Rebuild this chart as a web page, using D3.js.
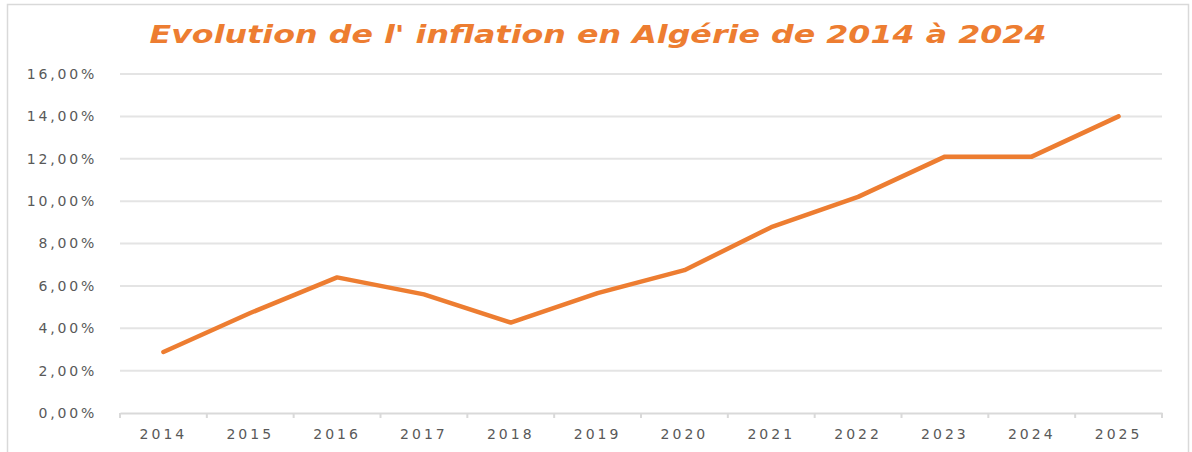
<!DOCTYPE html>
<html><head><meta charset="utf-8">
<script src="https://cdn.jsdelivr.net/npm/d3@7"></script>
<style>
html,body{margin:0;padding:0;background:#fff;}
svg{display:block;}
</style></head>
<body>
<svg id="chart" width="1192" height="452"></svg>
<script>
const years = ["2014","2015","2016","2017","2018","2019","2020","2021","2022","2023","2024","2025"];
const inflation = [2.88, 4.72, 6.40, 5.60, 4.27, 5.66, 6.74, 8.77, 10.2, 12.1, 12.1, 14.0];
const yTicks = [0, 2, 4, 6, 8, 10, 12, 14, 16];
const title = "Evolution de l' inflation en Algérie de 2014 à 2024";

const svg = d3.select("#chart");
const W = 1192, H = 452;
const m = {left:120, right:30, top:74, bottom:39};

svg.append("rect").attr("x",7.5).attr("y",4.5).attr("width",1181).attr("height",460)
  .attr("fill","#fff").attr("stroke","#d9d9d9").attr("stroke-width",1.5);

const x = d3.scaleBand().domain(years).range([m.left, W - m.right]);
const y = d3.scaleLinear().domain([0,16]).range([H - m.bottom, m.top]);

// gridlines
svg.append("g").selectAll("line").data(yTicks.filter(d=>d>0)).join("line")
  .attr("x1", m.left).attr("x2", W - m.right)
  .attr("y1", d=>y(d)).attr("y2", d=>y(d))
  .attr("stroke","#e4e4e4").attr("stroke-width",2);

// y axis labels
const fmt = d => d.toFixed(2).replace(".", ",") + "%";
const yAxis = d3.axisLeft(y).tickValues(yTicks).tickFormat(fmt).tickSize(0).tickPadding(23);
const gy = svg.append("g").attr("transform",`translate(${m.left},0)`).call(yAxis);
gy.select(".domain").remove();
gy.selectAll("text").attr("font-family","DejaVu Sans, Verdana, sans-serif")
  .attr("font-size",14).attr("fill","#595959").attr("letter-spacing","2.8px");

// x axis
const xAxis = d3.axisBottom(x).tickSize(0).tickPadding(16);
const gx = svg.append("g").attr("transform",`translate(0,${H - m.bottom})`).call(xAxis);
gx.select(".domain").attr("stroke","#d9d9d9").attr("stroke-width",2);
gx.selectAll("text").attr("font-family","DejaVu Sans, Verdana, sans-serif")
  .attr("font-size",14).attr("fill","#595959").attr("letter-spacing","3px");
// category boundary ticks
const bounds = years.map(d => x(d)).concat([x(years[years.length-1]) + x.bandwidth()]);
gx.append("g").selectAll("line").data(bounds).join("line")
  .attr("x1", d=>d).attr("x2", d=>d).attr("y1",0).attr("y2",5)
  .attr("stroke","#d9d9d9").attr("stroke-width",2);

// line
const line = d3.line().x((d,i)=>x(years[i]) + x.bandwidth()/2).y(d=>y(d));
svg.append("path").datum(inflation).attr("d", line)
  .attr("fill","none").attr("stroke","#ED7D31").attr("stroke-width",4.5)
  .attr("stroke-linejoin","round").attr("stroke-linecap","round");

// title
svg.append("text").attr("x",598).attr("y",43).attr("text-anchor","middle")
  .attr("font-family","DejaVu Sans, Verdana, sans-serif").attr("font-weight","bold")
  .attr("font-style","italic").attr("font-size",25).attr("fill","#ED7D31")
  .attr("textLength",897).attr("lengthAdjust","spacingAndGlyphs")
  .text(title);
</script>
</body></html>
